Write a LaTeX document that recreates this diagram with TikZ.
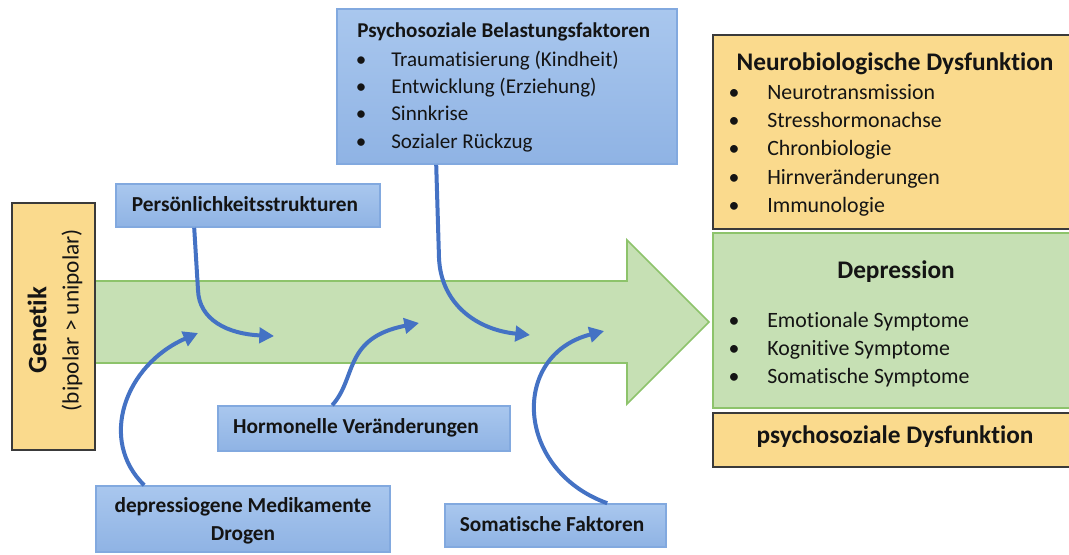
\documentclass[tikz,border=0pt]{standalone}
\usepackage{fontspec}
\setmainfont{Carlito}[Ligatures=NoCommon]
\usetikzlibrary{fit,calc,arrows.meta}
\definecolor{ylw}{HTML}{FADA8D}
\definecolor{ylwline}{HTML}{3A3A3A}
\definecolor{grn}{HTML}{C6E0B4}
\definecolor{grnline}{HTML}{8DC36B}
\definecolor{bluetop}{HTML}{A9C7EE}
\definecolor{bluebot}{HTML}{8FB3E4}
\definecolor{blueline}{HTML}{82A9DF}
\definecolor{arrblue}{HTML}{4472C4}
\definecolor{txt}{HTML}{141414}
\tikzset{
  bluebox/.style={draw=blueline, line width=1.2pt, top color=bluetop, bottom color=bluebot, inner sep=0pt},
  ylwbox/.style={draw=ylwline, fill=ylw, line width=1.3pt, inner sep=0pt},
  grnbox/.style={draw=grnline, fill=grn, line width=1.3pt, inner sep=0pt},
  flow/.style={draw=arrblue, line width=3pt, -{Triangle[length=11pt,width=11.5pt]}},
  bluelabel/.style={anchor=mid, inner sep=0pt, text=txt, font=\fontsize{16}{21}\selectfont\bfseries},
  itemA/.style={anchor=mid west, inner sep=0pt, text=txt, font=\fontsize{15.8}{18}\selectfont},
  itemB/.style={anchor=mid west, inner sep=0pt, text=txt, font=\fontsize{16.4}{19}\selectfont},
  bulA/.style={inner sep=0pt, anchor=mid, text=txt, font=\fontsize{15.8}{18}\selectfont},
  bulB/.style={inner sep=0pt, anchor=mid, text=txt, font=\fontsize{16.4}{19}\selectfont},
  titleB/.style={inner sep=0pt, anchor=mid, text=txt, font=\fontsize{19}{22}\selectfont\bfseries},
}
\begin{document}
\begin{tikzpicture}[x=0.75pt,y=-0.75pt]
\useasboundingbox (0,0) rectangle (1069,554);
\clip (0,0) rectangle (1069,554);

% big green arrow
\path[fill=grn, draw=grnline, line width=1.3pt]
  (80,281) -- (627,281) -- (627,240) -- (709,322) -- (627,404) -- (627,363) -- (80,363) -- cycle;

% Genetik
\node[ylwbox, fit={(12,203) (95,450)}] (gen) {};
\node[rotate=90, inner sep=0pt, text=txt, font=\fontsize{20}{24}\selectfont\bfseries] (genA) at (37,330) {Genetik};
\node[rotate=90, inner sep=0pt, text=txt, font=\fontsize{17.5}{21}\selectfont] (genB) at (72,320) {(bipolar > unipolar)};

% blue factor boxes
\node[bluebox, fit={(116,184) (380,227)}] (pers) {};
\node[bluelabel] (persT) at (245,208) {Persönlichkeitsstrukturen};
\node[bluebox, fit={(218,406) (510,451)}] (horm) {};
\node[bluelabel] (hormT) at (356,430) {Hormonelle Veränderungen};
\node[bluebox, fit={(96,486) (390,552)}] (drug) {};
\node[bluelabel] (drugT1) at (243,509) {depressiogene Medikamente};
\node[bluelabel] (drugT2) at (243,537) {Drogen};
\node[bluebox, fit={(445,504) (666,547)}] (soma) {};
\node[bluelabel] (somaT) at (552,528) {Somatische Faktoren};
\node[bluebox, fit={(337,9) (677,164)}] (psy) {};
\node[anchor=mid west, inner sep=0pt, text=txt, font=\fontsize{15.8}{18}\selectfont\bfseries] (psyT) at (357,34) {Psychosoziale Belastungsfaktoren};
\node[bulA] (pb1) at (361,63) {•}; \node[itemA] (pi1) at (391,63) {Traumatisierung (Kindheit)};
\node[bulA] (pb2) at (361,90) {•}; \node[itemA] (pi2) at (391,90) {Entwicklung (Erziehung)};
\node[bulA] (pb3) at (361,117) {•}; \node[itemA] (pi3) at (391,117) {Sinnkrise};
\node[bulA] (pb4) at (361,145) {•}; \node[itemA] (pi4) at (391,145) {Sozialer Rückzug};

% right column
\node[ylwbox, fit={(713,35) (1075,229)}] (neuro) {};
\node[titleB] (neuroT) at (895,67) {Neurobiologische Dysfunktion};
\node[bulB] (nb1) at (734,96) {•}; \node[itemB] (ni1) at (767,96) {Neurotransmission};
\node[bulB] (nb2) at (734,124) {•}; \node[itemB] (ni2) at (767,124) {Stresshormonachse};
\node[bulB] (nb3) at (734,152) {•}; \node[itemB] (ni3) at (767,152) {Chronbiologie};
\node[bulB] (nb4) at (734,181) {•}; \node[itemB] (ni4) at (767,181) {Hirnveränderungen};
\node[bulB] (nb5) at (734,209) {•}; \node[itemB] (ni5) at (767,209) {Immunologie};

\node[grnbox, fit={(713,233) (1075,408)}] (dep) {};
\node[titleB] (depT) at (896,275) {Depression};
\node[bulB] (db1) at (734,324) {•}; \node[itemB] (di1) at (767,324) {Emotionale Symptome};
\node[bulB] (db2) at (734,352) {•}; \node[itemB] (di2) at (767,352) {Kognitive Symptome};
\node[bulB] (db3) at (734,380) {•}; \node[itemB] (di3) at (767,380) {Somatische Symptome};

\node[ylwbox, fit={(713,413) (1075,467)}] (psd) {};
\node[titleB] (psdT) at (895,440) {psychosoziale Dysfunktion};

% free ends inside the big arrow
\coordinate (e1) at (274,336);
\coordinate (e2) at (198,333);
\coordinate (e3) at (419,323);
\coordinate (e4) at (530,335);
\coordinate (e5) at (604,331);

% blue connectors
\draw[flow] ($(pers.south west)+(79,0)$) -- (198,290) .. controls (199,320) and (228,334) .. (e1);
\draw[flow] ($(drug.north west)+(49,0)$) .. controls (98,440) and (125,365) .. (e2);
\draw[flow] ($(horm.north west)+(115,0)$) .. controls (357,378) and (343,338) .. (e3);
\draw[flow] ($(psy.south west)+(100,0)$) -- (439,258) .. controls (441,305) and (478,330) .. (e4);
\draw[flow] ($(soma.north west)+(163,0)$) .. controls (515,470) and (510,355) .. (e5);
\end{tikzpicture}
\end{document}
